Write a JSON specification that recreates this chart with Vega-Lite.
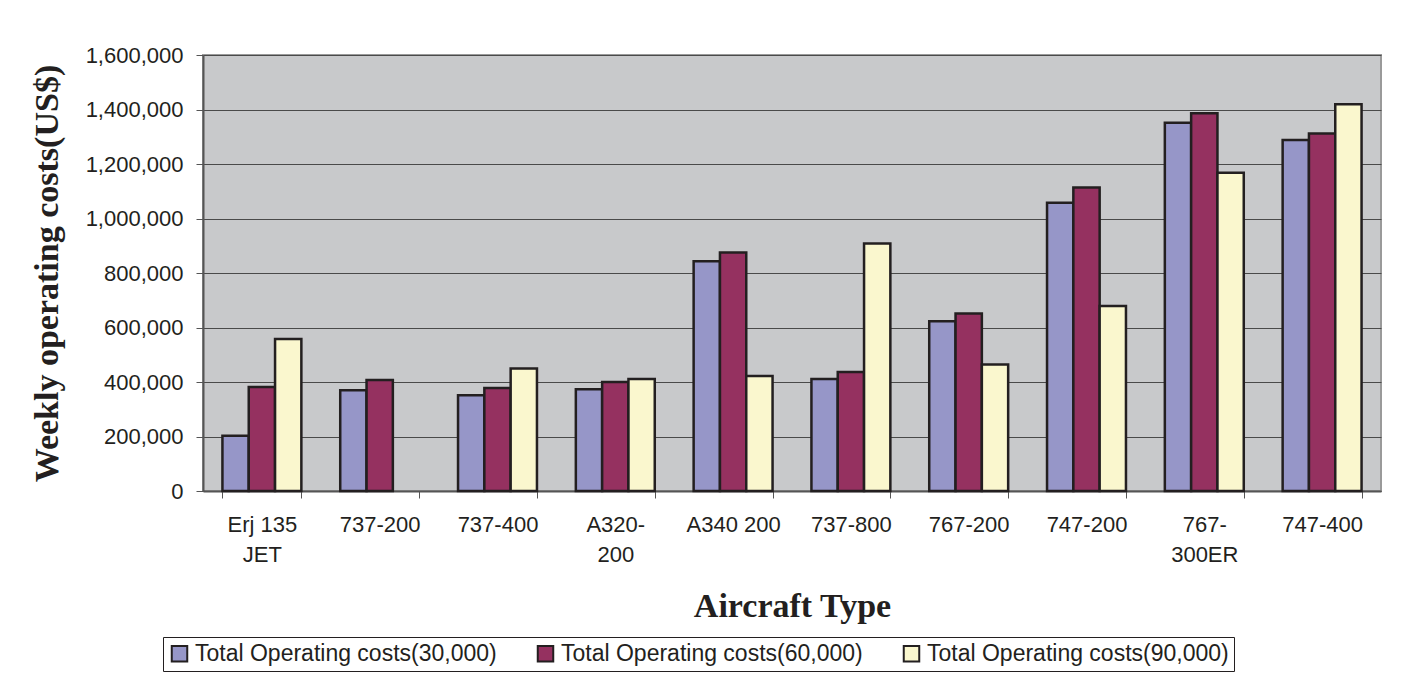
{
  "$schema": "https://vega.github.io/schema/vega-lite/v6.json",
  "autosize": {"type": "none"},
  "padding": {"left": 203, "top": 55, "right": 35, "bottom": 209},
  "width": 1178,
  "height": 436,
  "background": "#FFFFFF",
  "config": {
    "view": {"fill": "#C8C9CB", "stroke": "#9A9A9A", "strokeWidth": 2},
    "font": "Liberation Sans"
  },
  "data": {
    "values": [
      {"aircraft": "Erj 135 JET", "series": "Total Operating costs(30,000)", "cost": 203000},
      {"aircraft": "Erj 135 JET", "series": "Total Operating costs(60,000)", "cost": 382000},
      {"aircraft": "Erj 135 JET", "series": "Total Operating costs(90,000)", "cost": 558000},
      {"aircraft": "737-200", "series": "Total Operating costs(30,000)", "cost": 370000},
      {"aircraft": "737-200", "series": "Total Operating costs(60,000)", "cost": 407000},
      {"aircraft": "737-400", "series": "Total Operating costs(30,000)", "cost": 351000},
      {"aircraft": "737-400", "series": "Total Operating costs(60,000)", "cost": 378000},
      {"aircraft": "737-400", "series": "Total Operating costs(90,000)", "cost": 450000},
      {"aircraft": "A320-200", "series": "Total Operating costs(30,000)", "cost": 373000},
      {"aircraft": "A320-200", "series": "Total Operating costs(60,000)", "cost": 400000},
      {"aircraft": "A320-200", "series": "Total Operating costs(90,000)", "cost": 411000},
      {"aircraft": "A340 200", "series": "Total Operating costs(30,000)", "cost": 843000},
      {"aircraft": "A340 200", "series": "Total Operating costs(60,000)", "cost": 875000},
      {"aircraft": "A340 200", "series": "Total Operating costs(90,000)", "cost": 422000},
      {"aircraft": "737-800", "series": "Total Operating costs(30,000)", "cost": 411000},
      {"aircraft": "737-800", "series": "Total Operating costs(60,000)", "cost": 437000},
      {"aircraft": "737-800", "series": "Total Operating costs(90,000)", "cost": 908000},
      {"aircraft": "767-200", "series": "Total Operating costs(30,000)", "cost": 623000},
      {"aircraft": "767-200", "series": "Total Operating costs(60,000)", "cost": 651000},
      {"aircraft": "767-200", "series": "Total Operating costs(90,000)", "cost": 464000},
      {"aircraft": "747-200", "series": "Total Operating costs(30,000)", "cost": 1058000},
      {"aircraft": "747-200", "series": "Total Operating costs(60,000)", "cost": 1114000},
      {"aircraft": "747-200", "series": "Total Operating costs(90,000)", "cost": 679000},
      {"aircraft": "767-300ER", "series": "Total Operating costs(30,000)", "cost": 1351000},
      {"aircraft": "767-300ER", "series": "Total Operating costs(60,000)", "cost": 1386000},
      {"aircraft": "767-300ER", "series": "Total Operating costs(90,000)", "cost": 1168000},
      {"aircraft": "747-400", "series": "Total Operating costs(30,000)", "cost": 1288000},
      {"aircraft": "747-400", "series": "Total Operating costs(60,000)", "cost": 1312000},
      {"aircraft": "747-400", "series": "Total Operating costs(90,000)", "cost": 1419000}
    ]
  },
  "mark": {"type": "bar", "stroke": "#231F20", "strokeWidth": 2.5},
  "encoding": {
    "x": {
      "field": "aircraft",
      "type": "nominal",
      "sort": null,
      "scale": {"paddingInner": 0.33, "paddingOuter": 0.165},
      "axis": {
        "title": "Aircraft Type",
        "titleFont": "Liberation Serif",
        "titleFontSize": 34,
        "titleFontWeight": "bold",
        "titleColor": "#231F20",
        "titleBaseline": "alphabetic",
        "titleY": 125,
        "labelAngle": 0,
        "labelFontSize": 22,
        "labelColor": "#231F20",
        "labelPadding": 16,
        "labelLineHeight": 30,
        "labelExpr": "datum.value == 'Erj 135 JET' ? ['Erj 135', 'JET'] : datum.value == 'A320-200' ? ['A320-', '200'] : datum.value == '767-300ER' ? ['767-', '300ER'] : datum.value",
        "tickBand": "extent",
        "tickSize": 7,
        "tickColor": "#555555",
        "domainColor": "#555555",
        "domainWidth": 2,
        "grid": false
      }
    },
    "xOffset": {"field": "series", "type": "nominal"},
    "y": {
      "field": "cost",
      "type": "quantitative",
      "scale": {"domain": [0, 1600000], "nice": false},
      "axis": {
        "title": "Weekly operating costs(US$)",
        "titleFont": "Liberation Serif",
        "titleFontSize": 34,
        "titleFontWeight": "bold",
        "titleColor": "#231F20",
        "titleAngle": -90,
        "titleBaseline": "alphabetic",
        "titleAlign": "center",
        "titleX": -146,
        "titleY": 218,
        "values": [0, 200000, 400000, 600000, 800000, 1000000, 1200000, 1400000, 1600000],
        "format": ",d",
        "labelFontSize": 22,
        "labelColor": "#231F20",
        "labelPadding": 13,
        "tickSize": 7,
        "tickColor": "#555555",
        "domainColor": "#555555",
        "domainWidth": 2,
        "gridColor": "#4A4A4A",
        "gridWidth": 1
      }
    },
    "color": {
      "field": "series",
      "type": "nominal",
      "scale": {"range": ["#9696C8", "#953160", "#FAF7CE"]},
      "legend": {
        "title": null,
        "orient": "none",
        "direction": "horizontal",
        "legendX": -40,
        "legendY": 582,
        "strokeColor": "#231F20",
        "padding": 5,
        "labelFontSize": 23,
        "labelColor": "#231F20",
        "labelOffset": 4,
        "columnPadding": 36,
        "symbolType": "square",
        "symbolSize": 240,
        "symbolStrokeColor": "#231F20",
        "symbolStrokeWidth": 2,
        "symbolOpacity": 1,
        "labelLimit": 400
      }
    }
  }
}
